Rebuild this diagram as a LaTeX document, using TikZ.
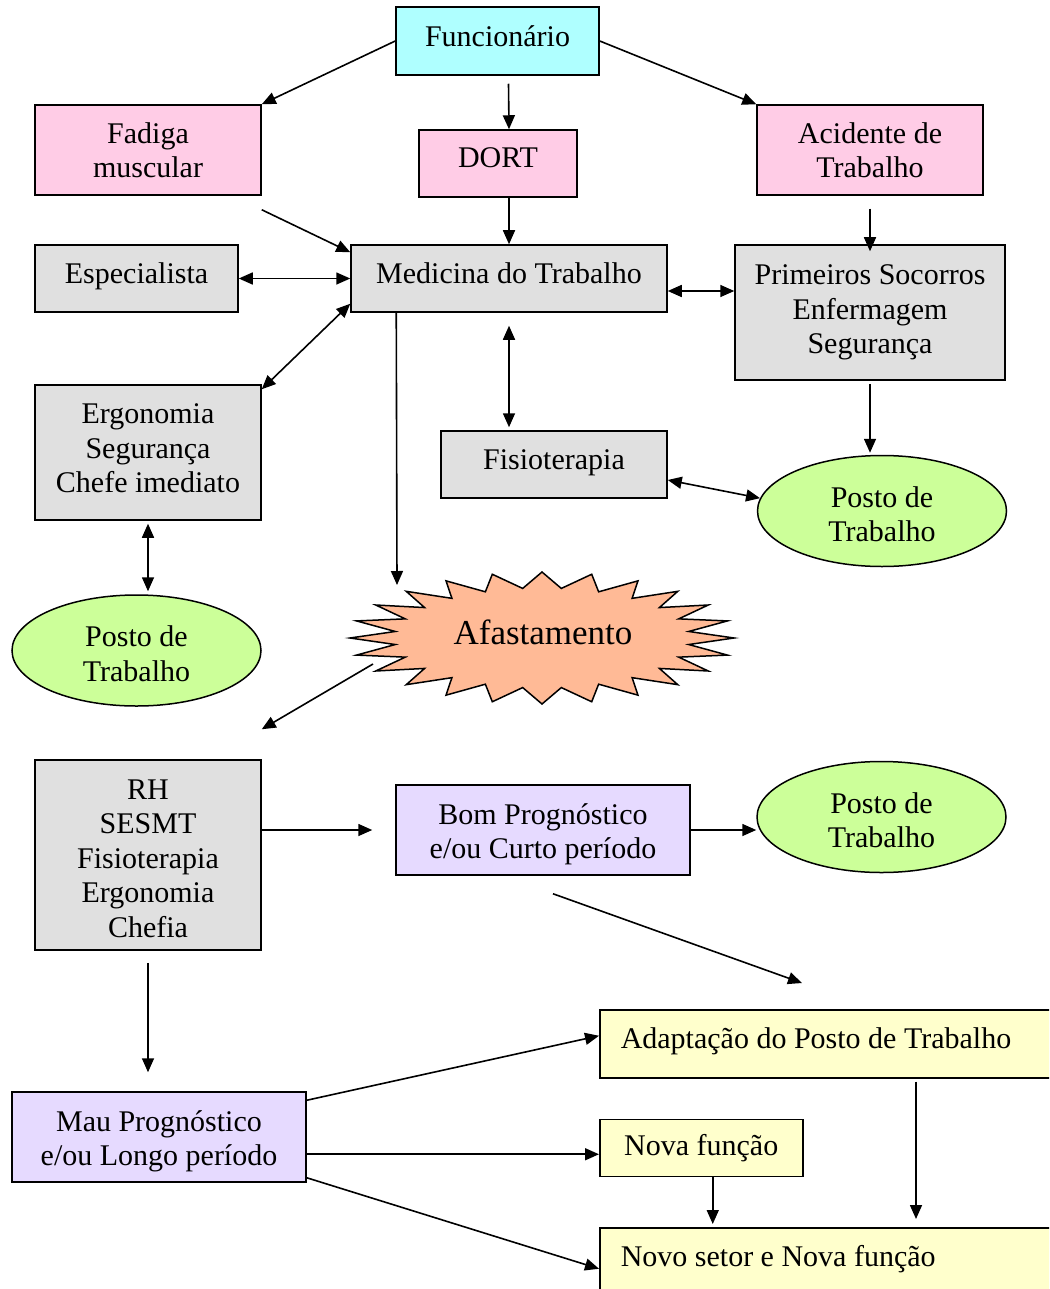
\documentclass[tikz,border=0pt]{standalone}
\usepackage{fontspec}
\setmainfont{Liberation Serif}
\usepackage{xcolor}
\usetikzlibrary{shapes.geometric, arrows.meta, positioning, calc}
\definecolor{funccyan}{RGB}{175,255,255}
\definecolor{causepink}{RGB}{255,204,230}
\definecolor{setorgray}{RGB}{224,224,224}
\definecolor{progmauve}{RGB}{230,218,255}
\definecolor{saidayel}{RGB}{255,255,204}
\definecolor{postogreen}{RGB}{204,255,153}
\definecolor{burstsalmon}{RGB}{255,186,150}
\tikzset{
  box/.style      = {rectangle, draw, line width=1.5pt, inner sep=0pt,
                     align=center, font=\fontsize{30}{34.5}\selectfont},
  oneline/.style  = {text height=21pt, text depth=12pt},
  funcbox/.style  = {box, fill=funccyan},
  causebox/.style = {box, fill=causepink},
  setorbox/.style = {box, fill=setorgray},
  progbox/.style  = {box, fill=progmauve, text height=63pt, text depth=6pt},
  saidabox/.style = {box, fill=saidayel},
  posto/.style    = {ellipse, draw, line width=1.5pt, fill=postogreen,
                     inner sep=0pt, minimum width=249pt, minimum height=111pt,
                     text height=61pt, text depth=0pt, align=center,
                     font=\fontsize{30}{34.5}\selectfont},
  burst/.style    = {draw, line width=1.5pt, fill=burstsalmon, line join=miter},
  flow/.style     = {-{Triangle[length=14pt, width=12pt]}, line width=1.6pt},
  dflow/.style    = {{Triangle[length=14pt, width=12pt]}-{Triangle[length=14pt, width=12pt]},
                     line width=1.6pt},
}

\begin{document}
\begin{tikzpicture}[x=1pt, y=-1pt]
  \useasboundingbox (0,0) rectangle (1049,1289);
  \clip (0,0) rectangle (1049,1289);

  % origem e causas
  \node[funcbox, oneline, text depth=9pt, minimum width=203pt, minimum height=68pt] (func) at (497.5,41) {Funcionário};
  \node[causebox, minimum width=226pt, minimum height=90pt] (fadiga) at (148,150) {Fadiga\\muscular};
  \node[causebox, oneline, minimum width=158pt, minimum height=67pt] (dort) at (498,163.5) {DORT};
  \node[causebox, minimum width=226pt, minimum height=90pt] (acidente) at (870,150) {Acidente de\\Trabalho};

  % atendimento
  \node[setorbox, oneline, minimum width=203pt, minimum height=67pt] (espec) at (136.5,278.5) {Especialista};
  \node[setorbox, oneline, minimum width=316pt, minimum height=67pt] (medic) at (509,278.5) {Medicina do Trabalho};
  \node[setorbox, minimum width=270pt, minimum height=135pt] (socorros) at (870,312.5) {Primeiros Socorros\\Enfermagem\\Segurança};
  \node[setorbox, text depth=8pt, minimum width=226pt, minimum height=135pt] (ergo) at (148,452.5) {Ergonomia\\Segurança\\Chefe imediato};
  \node[setorbox, oneline, minimum width=226pt, minimum height=67pt] (fisio) at (554,464.5) {Fisioterapia};
  \node[posto] (postoA) at (882,511) {Posto de\\Trabalho};
  \node[posto] (postoB) at (136.5,650.5) {Posto de\\Trabalho};

  % afastamento
  \draw[burst] plot[samples=49, domain=0:48, variable=\t]
    ({542+(170+22*cos(180*\t))*cos(7.5*\t)}, {638-(58+8*cos(180*\t))*sin(7.5*\t)}) -- cycle;
  \node[font=\fontsize{35}{40}\selectfont, inner sep=0pt] (afast) at (543,632) {Afastamento};
  \coordinate (burstin) at (397,585);
  \coordinate (burstout) at (373,664);

  % retorno
  \node[setorbox, text height=164pt, text depth=0pt, minimum width=226pt, minimum height=190pt] (rh) at (148,855) {RH\\SESMT\\Fisioterapia\\Ergonomia\\Chefia};
  \node[progbox, minimum width=294pt, minimum height=90pt] (bom) at (543,830) {Bom Prognóstico\\e/ou Curto período};
  \node[posto] (postoC) at (881.5,817) {Posto de\\Trabalho};
  \node[progbox, minimum width=294pt, minimum height=90pt] (mau) at (159,1137) {Mau Prognóstico\\e/ou Longo período};
  \node[saidabox, oneline, anchor=north west, text width=429pt, inner xsep=21pt, align=flush left,
        minimum height=68pt] (adapt) at (599,1009) {Adaptação do Posto de Trabalho};
  \node[saidabox, below=40pt of adapt.south west, anchor=north west,
        minimum width=203pt, minimum height=57pt] (novafun) {Nova função};
  \node[saidabox, oneline, below=50pt of novafun.south west, anchor=north west, text width=429pt,
        inner xsep=21pt, align=flush left, minimum height=68pt] (novosetor) {Novo setor e Nova função};

  \draw[flow] (func.west) -- (fadiga.north east);
  \draw[flow] ([xshift=11pt, yshift=-8pt]func.south) -- ([xshift=11pt]dort.north);
  \draw[flow] (func.east) -- (acidente.north west);
  \draw[flow] ([yshift=-14pt]fadiga.south east) -- ([yshift=-8pt]medic.north west);
  \draw[flow] (dort.south -| medic.north) -- (medic.north);
  \draw[flow] ([yshift=-13pt]acidente.south) -- ([yshift=-7pt]socorros.north);
  \draw[dflow] (espec.east) -- (medic.west);
  \draw[dflow] ([yshift=-12.5pt]medic.east) -- ([yshift=-12.5pt]medic.east -| socorros.west);
  \draw[dflow] ([yshift=-5pt]ergo.north east) -- ([yshift=9pt]medic.south west);
  \draw[dflow] ([yshift=-13pt]medic.south) -- ([yshift=3pt]medic.south |- fisio.north);
  \draw[flow] ([xshift=46pt]medic.south west) -- (burstin);
  \draw[flow] ([yshift=-3pt]socorros.south) -- ([yshift=2pt]socorros.south |- postoA.north);
  \draw[dflow] ([yshift=-15.5pt]fisio.east) -- (postoA.174);
  \draw[dflow] ([yshift=-3pt]ergo.south) -- ([yshift=3pt]ergo.south |- postoB.north);
  \draw[flow] (burstout) -- ([yshift=30pt]rh.north east);
  \draw[flow] (rh.east |- bom.west) -- ([xshift=-23pt]bom.west);
  \draw[flow] (bom.east) -- (bom.east -| postoC.west);
  \draw[flow] ([xshift=10pt, yshift=-18pt]bom.south) -- ([xshift=203pt, yshift=26pt]adapt.north west);
  \draw[flow] ([yshift=-12pt]rh.south) -- ([yshift=19pt]rh.south |- mau.north);
  \draw[flow] ([yshift=-9pt]mau.north east) -- ([yshift=8pt]adapt.west);
  \draw[flow] ([yshift=-6.5pt]novafun.west -| mau.east) -- ([yshift=-6.5pt]novafun.west);
  \draw[flow] ([yshift=5pt]mau.south east) -- ([yshift=-7pt]novosetor.west);
  \draw[flow] ([xshift=11.5pt]novafun.south) -- ([xshift=11.5pt, yshift=3pt]novafun.south |- novosetor.north);
  \draw[flow] ([xshift=317pt, yshift=-3pt]adapt.south west) -- ([xshift=317pt, yshift=8pt]novosetor.north west);
\end{tikzpicture}
\end{document}
